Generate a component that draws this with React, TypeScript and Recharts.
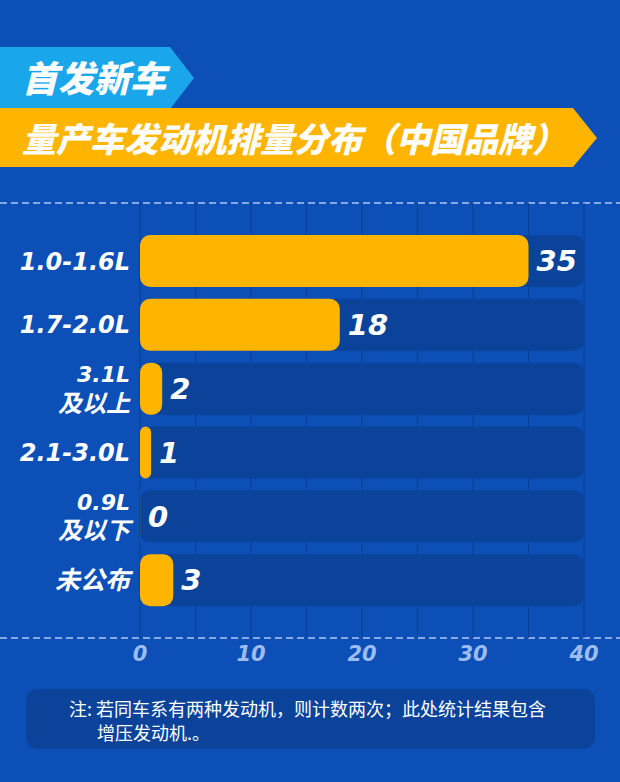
import { BarChart, Bar, XAxis, YAxis, CartesianGrid, LabelList } from "recharts";

// 发动机排量分布（中国品牌）
const categories = ["1.0-1.6L", "1.7-2.0L", "3.1L\n及以上", "2.1-3.0L", "0.9L\n及以下", "未公布"];
const counts = [35, 18, 2, 1, 0, 3];
const xTicks = [0, 10, 20, 30, 40];
const gridValues = [0, 5, 10, 15, 20, 25, 30, 35, 40];

const data = categories.map((name, i) => ({ name, value: counts[i] }));

const BG = "#0b4fb7";
const TRACK = "#0a4399";
const GRID = "#0a3e90";
const YELLOW = "#ffb400";
const CYAN = "#19a6ea";
const DASH = "#86a9e6";
const NUM_FONT = "'DejaVu Sans', 'Noto Sans CJK SC', sans-serif";
const CJK_FONT = "'Noto Sans CJK SC', sans-serif";

const isCjk = (s: string) => /[\u4e00-\u9fff]/.test(s);

function CategoryTick({ x, y, payload }: any) {
  const lines: string[] = String(payload.value).split("\n");
  const multi = lines.length > 1;
  const lh = 29;
  return (
    <g>
      {lines.map((line, i) => {
        const size = isCjk(line) ? (multi ? 24 : 25) : multi ? 22 : 24;
        const cy = y + (i - (lines.length - 1) / 2) * lh;
        return (
          <text
            key={i}
            x={x}
            y={cy + size * 0.36}
            textAnchor="end"
            fill="#ffffff"
            fontSize={size}
            fontWeight="bold"
            fontStyle="italic"
            fontFamily={NUM_FONT}
          >
            {line}
          </text>
        );
      })}
    </g>
  );
}

function Decorations() {
  return (
    <svg width={620} height={782} style={{ position: "absolute", left: 0, top: 0 }}>
      {/* 标题条 */}
      <polygon points="0,47 170,47 194,78 170,109 0,109" fill={CYAN} />
      <polygon points="0,108 573,108 597,138 573,167 0,167" fill={YELLOW} />
      <text
        x={22}
        y={92}
        fill="#fff"
        fontSize={36}
        fontWeight={900}
        fontStyle="italic"
        fontFamily={CJK_FONT}
      >
        首发新车
      </text>
      <text
        x={22}
        y={152}
        fill="#fff"
        fontSize={34}
        fontWeight={900}
        fontStyle="italic"
        fontFamily={CJK_FONT}
      >
        量产车发动机排量分布（中国品牌）
      </text>

      {/* 虚线 */}
      <line x1={0} x2={620} y1={203} y2={203} stroke={DASH} strokeWidth={2} strokeDasharray="7 4" />
      <line x1={0} x2={620} y1={638} y2={638} stroke={DASH} strokeWidth={2} strokeDasharray="7 4" />

      {/* 注释 */}
      <rect x={26} y={689} width={569} height={60} rx={12} fill={TRACK} />
      <text x={69} y={716} fill="#fff" fontSize={18} fontFamily={CJK_FONT}>
        注: 若同车系有两种发动机，则计数两次；此处统计结果包含
      </text>
      <text x={97} y={740} fill="#fff" fontSize={18} fontFamily={CJK_FONT}>
        增压发动机.。
      </text>
    </svg>
  );
}

export default function App() {
  return (
    <div
      style={{
        position: "absolute",
        left: 0,
        top: 0,
        width: 620,
        height: 782,
        background: BG,
        overflow: "hidden",
      }}
    >
      <Decorations />
      <div style={{ position: "absolute", left: 0, top: 0 }}>
        <BarChart
          width={620}
          height={782}
          data={data}
          layout="vertical"
          margin={{ top: 203, right: 36, bottom: 114, left: 10 }}
        >
          <CartesianGrid horizontal={false} verticalValues={gridValues} stroke={GRID} strokeWidth={1} />
          <XAxis
            type="number"
            domain={[0, 40]}
            ticks={xTicks}
            axisLine={false}
            tickLine={false}
            height={30}
            tick={{
              fill: "#9dbcf0",
              fontSize: 21,
              fontStyle: "italic",
              fontWeight: "bold",
              fontFamily: NUM_FONT,
            }}
          />
          <YAxis
            type="category"
            dataKey="name"
            width={130}
            axisLine={false}
            tickLine={false}
            tickSize={0}
            tickMargin={10}
            interval={0}
            padding={{ top: 26, bottom: 26 }}
            tick={<CategoryTick />}
          />
          <Bar
            dataKey="value"
            fill={YELLOW}
            barSize={52}
            radius={10}
            minPointSize={0.1}
            background={{ fill: TRACK, radius: 10 }}
            isAnimationActive={false}
          >
            <LabelList
              dataKey="value"
              position="right"
              offset={8}
              fill="#ffffff"
              fontSize={29}
              fontStyle="italic"
              fontWeight="bold"
              fontFamily={NUM_FONT}
            />
          </Bar>
        </BarChart>
      </div>
    </div>
  );
}
